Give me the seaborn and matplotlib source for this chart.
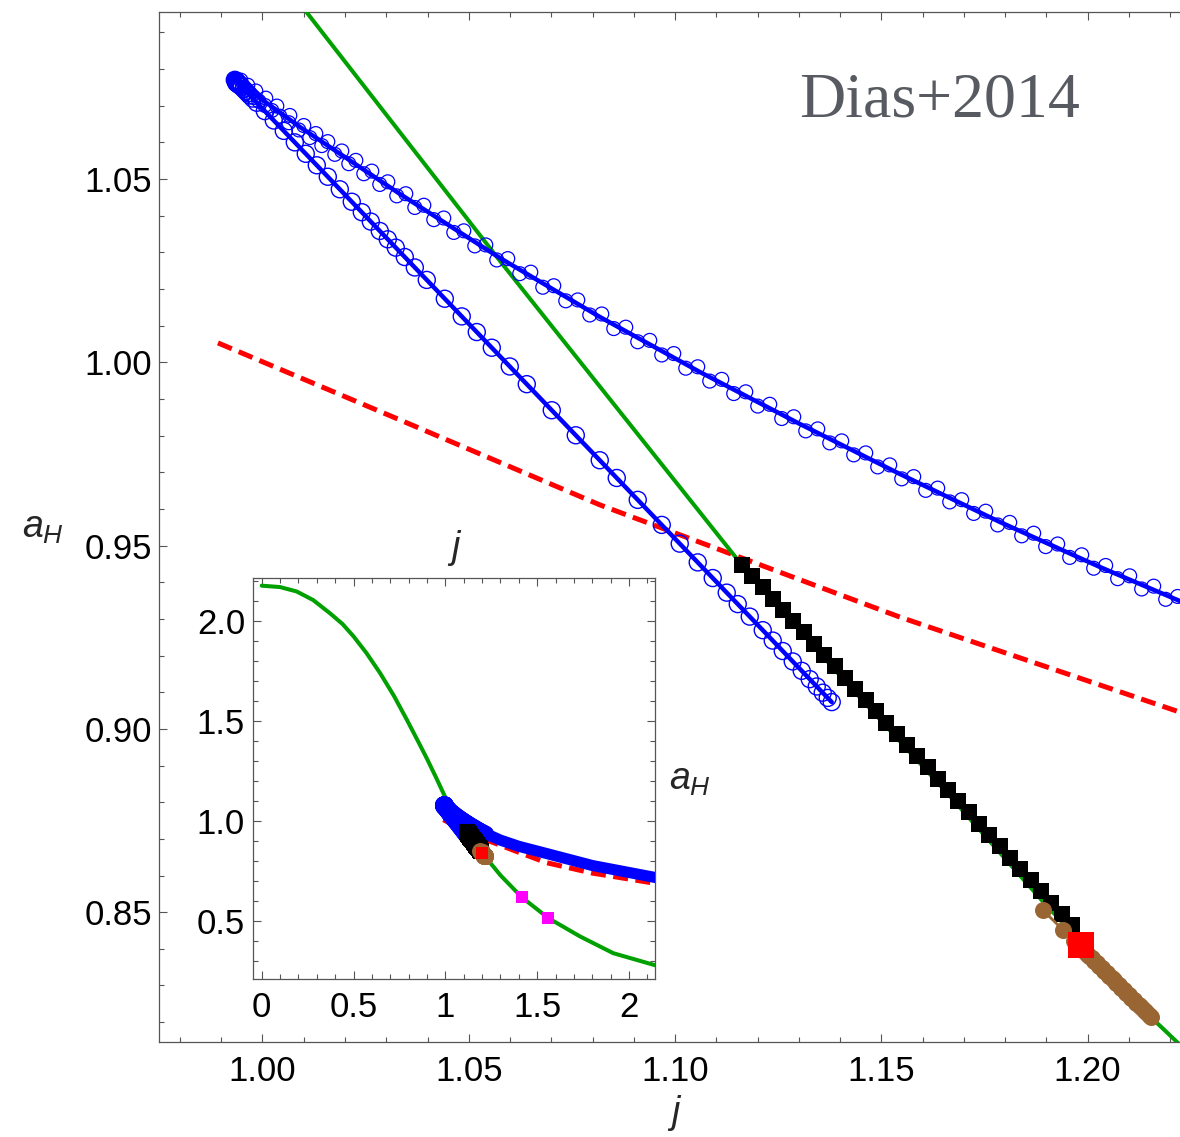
import matplotlib
matplotlib.use("Agg")
import matplotlib.pyplot as plt
from matplotlib.ticker import MultipleLocator, FormatStrFormatter
import seaborn as sns

# ---- values ----
green_j = [0.0, 0.10, 0.19, 0.28, 0.37, 0.44, 0.50, 0.57, 0.644, 0.72, 0.79, 0.85, 0.90, 0.95,
           1.0107, 1.0583, 1.1162, 1.1412, 1.1662, 1.1891, 1.2155, 1.225, 1.30, 1.415, 1.56,
           1.733, 1.914, 2.16]
green_a = [2.177, 2.170, 2.148, 2.105, 2.04, 1.985, 1.923, 1.84, 1.74, 1.625, 1.506, 1.40, 1.31,
           1.215, 1.0955, 1.0266, 0.9447, 0.9130, 0.8822, 0.8530, 0.8212, 0.811, 0.727, 0.618,
           0.513, 0.421, 0.337, 0.272]

red_j = [0.9892, 1.0333, 1.0818, 1.1545, 1.2223, 1.40, 1.551, 1.80, 2.16]
red_a = [1.0053, 0.9843, 0.9611, 0.9305, 0.9046, 0.842, 0.790, 0.738, 0.684]

# upper branch: interpolating line and the two rows of circles along it
up_line_j = [0.99329, 1.00904, 1.03328, 1.05751, 1.08175, 1.10598, 1.13022, 1.15446, 1.17869,
             1.20293, 1.22232, 1.30, 1.40, 1.551, 1.80, 2.16]
up_line_a = [1.07707, 1.06424, 1.04596, 1.02850, 1.01240, 0.99739, 0.98321, 0.96956, 0.95647,
             0.94419, 0.93491, 0.903, 0.872, 0.836, 0.776, 0.713]

upA_j = [0.99329, 0.99353, 0.99377, 0.99401, 0.99426, 0.99450, 0.99498, 0.99547, 0.99620, 0.99692,
         0.99789, 0.99911, 1.00056, 1.00226, 1.00420, 1.00638, 1.00880, 1.01147, 1.01438, 1.01753,
         1.02092, 1.02456, 1.02843, 1.03255, 1.03692, 1.04152, 1.04637, 1.05146, 1.05679, 1.06236,
         1.06794, 1.07351, 1.07933, 1.08515, 1.09096, 1.09678, 1.10260, 1.10841, 1.11423, 1.12005,
         1.12586, 1.13168, 1.13750, 1.14331, 1.14913, 1.15495, 1.16076, 1.16658, 1.17239, 1.17821,
         1.18403, 1.18984, 1.19566, 1.20148, 1.20729, 1.21311, 1.21893, 1.22474]
upA_a = [1.07598, 1.07578, 1.07558, 1.07539, 1.07519, 1.07499, 1.07460, 1.07421, 1.07362, 1.07303,
         1.07224, 1.07126, 1.07008, 1.06871, 1.06714, 1.06537, 1.06340, 1.06132, 1.05913, 1.05675,
         1.05419, 1.05145, 1.04853, 1.04542, 1.04225, 1.03893, 1.03544, 1.03177, 1.02793, 1.02419,
         1.02049, 1.01678, 1.01292, 1.00921, 1.00561, 1.00201, 0.99840, 0.99488, 0.99148, 0.98807,
         0.98467, 0.98130, 0.97802, 0.97475, 0.97147, 0.96821, 0.96507, 0.96192, 0.95878, 0.95564,
         0.95267, 0.94973, 0.94678, 0.94383, 0.94098, 0.93817, 0.93535, 0.93254]

upB_j = [0.99474, 0.99644, 0.99838, 1.00080, 1.00347, 1.00662, 1.01001, 1.01292, 1.01583, 1.01922,
         1.02262, 1.02649, 1.03037, 1.03473, 1.03910, 1.04394, 1.04879, 1.05412, 1.05945, 1.06503,
         1.07060, 1.07642, 1.08224, 1.08805, 1.09387, 1.09969, 1.10550, 1.11132, 1.11714, 1.12295,
         1.12877, 1.13459, 1.14040, 1.14622, 1.15204, 1.15785, 1.16367, 1.16948, 1.17530, 1.18112,
         1.18693, 1.19275, 1.19857, 1.20438, 1.21020, 1.21602, 1.22183]
upB_a = [1.07698, 1.07560, 1.07403, 1.07207, 1.06991, 1.06735, 1.06460, 1.06241, 1.06021, 1.05766,
         1.05510, 1.05217, 1.04925, 1.04600, 1.04286, 1.03937, 1.03588, 1.03203, 1.02830, 1.02460,
         1.02090, 1.01703, 1.01319, 1.00959, 1.00599, 1.00239, 0.99879, 0.99536, 0.99196, 0.98855,
         0.98515, 0.98184, 0.97857, 0.97529, 0.97202, 0.96882, 0.96568, 0.96253, 0.95939, 0.95633,
         0.95338, 0.95044, 0.94749, 0.94458, 0.94176, 0.93894, 0.93613]

# lower branch
low_j = [0.99329, 0.99341, 0.99353, 0.99365, 0.99377, 0.99389, 0.99401, 0.99413, 0.99426, 0.99438,
         0.99450, 0.99474, 0.99498, 0.99547, 0.99595, 0.99644, 0.99692, 0.99765, 0.99862, 1.00056,
         1.00274, 1.00516, 1.00783, 1.01049, 1.01316, 1.01583, 1.01874, 1.02164, 1.02407, 1.02625,
         1.02843, 1.03037, 1.03231, 1.03449, 1.03692, 1.03982, 1.04419, 1.04830, 1.05194, 1.05558,
         1.05994, 1.06406, 1.07012, 1.07594, 1.08175, 1.08587, 1.09096, 1.09678, 1.10114, 1.10550,
         1.10914, 1.11253, 1.11520, 1.11811, 1.12126, 1.12368, 1.12611, 1.12853, 1.13071, 1.13265,
         1.13435, 1.13580, 1.13701, 1.13798]
low_a = [1.07707, 1.07693, 1.07679, 1.07665, 1.07651, 1.07637, 1.07623, 1.07608, 1.07593, 1.07579,
         1.07565, 1.07537, 1.07509, 1.07451, 1.07395, 1.07338, 1.07281, 1.07196, 1.07082, 1.06854,
         1.06598, 1.06314, 1.06001, 1.05689, 1.05376, 1.05063, 1.04721, 1.04381, 1.04096, 1.03840,
         1.03584, 1.03357, 1.03129, 1.02873, 1.02588, 1.02248, 1.01735, 1.01253, 1.00826, 1.00399,
         0.99887, 0.99404, 0.98693, 0.98010, 0.97329, 0.96845, 0.96248, 0.95565, 0.95054, 0.94542,
         0.94115, 0.93717, 0.93404, 0.93063, 0.92693, 0.92409, 0.92124, 0.91840, 0.91584, 0.91357,
         0.91157, 0.90987, 0.90845, 0.90731]

black_j = [1.1162, 1.1187, 1.1212, 1.1237, 1.1262, 1.1287, 1.1312, 1.1337, 1.1362, 1.1387, 1.1412,
           1.1437, 1.1462, 1.1487, 1.1512, 1.1537, 1.1562, 1.1587, 1.1612, 1.1637, 1.1662, 1.1687,
           1.1712, 1.1737, 1.1762, 1.1787, 1.1812, 1.1837, 1.1862, 1.1887, 1.1912, 1.1937, 1.1962]
black_a = [0.9447, 0.9416, 0.9386, 0.9355, 0.9324, 0.9294, 0.9263, 0.9232, 0.9202, 0.9171, 0.9140,
           0.9109, 0.9079, 0.9048, 0.9017, 0.8987, 0.8956, 0.8925, 0.8895, 0.8864, 0.8833, 0.8803,
           0.8772, 0.8741, 0.8711, 0.8680, 0.8649, 0.8619, 0.8588, 0.8557, 0.8526, 0.8496, 0.8465]

brown_j = [1.1891, 1.1940, 1.1968, 1.1974, 1.1980, 1.1986, 1.1992, 1.1998, 1.2004, 1.2010, 1.2016,
           1.2022, 1.2028, 1.2034, 1.2040, 1.2046, 1.2052, 1.2058, 1.2064, 1.2070, 1.2076, 1.2082,
           1.2088, 1.2094, 1.2100, 1.2106, 1.2112, 1.2118, 1.2124, 1.2130, 1.2136, 1.2142, 1.2148,
           1.2154]
brown_a = [0.8506, 0.8452, 0.8421, 0.8414, 0.8407, 0.8401, 0.8394, 0.8387, 0.8381, 0.8374, 0.8367,
           0.8360, 0.8354, 0.8347, 0.8340, 0.8334, 0.8327, 0.8320, 0.8314, 0.8307, 0.8300, 0.8293,
           0.8287, 0.8280, 0.8273, 0.8267, 0.8260, 0.8253, 0.8247, 0.8240, 0.8233, 0.8227, 0.8220,
           0.8213]

redsq_j, redsq_a = [1.1983], [0.8410]
mag_j, mag_a = [1.415, 1.560], [0.618, 0.513]

sns.set_theme(style="ticks")
plt.rcParams['font.family'] = ['Liberation Sans', 'DejaVu Sans']
plt.rcParams['mathtext.fontset'] = 'custom'
plt.rcParams['mathtext.rm'] = 'Liberation Sans'
plt.rcParams['mathtext.it'] = 'Liberation Sans:italic'

GREEN = '#00a000'
BROWN = '#996633'
EDGE = '#555555'

fig = plt.figure(figsize=(11.8, 11.37), dpi=100)
ax = fig.add_axes([0.1347, 0.0833, 0.8653, 0.9059])
ins = fig.add_axes([0.2147, 0.1390, 0.3404, 0.3524])


def line(a, x, y, **kw):
    sns.lineplot(x=x, y=y, ax=a, sort=False, estimator=None, **kw)


def draw(a, inset=False):
    line(a, red_j, red_a, color='red', lw=3.6, linestyle=(0, (3, 1.5)), zorder=2)
    line(a, green_j, green_a, color=GREEN, lw=2.9, zorder=3)
    if inset:
        line(a, up_line_j, up_line_a, color='blue', lw=8, zorder=3)
    line(a, up_line_j, up_line_a, color='blue', lw=3.2, zorder=4)
    line(a, low_j, low_a, color='blue', lw=3.2, zorder=4)
    for xs, ys in [(upA_j, upA_a), (upB_j, upB_a)]:
        a.scatter(xs, ys, s=100, facecolors='none', edgecolors='blue', linewidths=0.9, zorder=4)
    a.scatter(low_j, low_a, s=150, facecolors='none', edgecolors='blue', linewidths=1.0, zorder=4)
    sns.scatterplot(x=black_j, y=black_a, ax=a, marker='s', s=130, color='black', linewidth=0, zorder=5)
    line(a, brown_j, brown_a, color=BROWN, lw=2, zorder=6)
    sns.scatterplot(x=brown_j, y=brown_a, ax=a, marker='o', s=150, color=BROWN, linewidth=0, zorder=6)
    sns.scatterplot(x=redsq_j, y=redsq_a, ax=a, marker='s', s=70 if inset else 330,
                    color='red', linewidth=0, zorder=7)
    if inset:
        sns.scatterplot(x=mag_j, y=mag_a, ax=a, marker='s', s=64, color='magenta', linewidth=0, zorder=7)


def style(a, labelfmt_x, labelfmt_y, right):
    a.tick_params(which='both', direction='in', top=True, right=right, color=EDGE,
                  labelsize=25, labelcolor='black', width=0.8)
    a.tick_params(which='major', length=6)
    a.tick_params(which='minor', length=3.6)
    a.xaxis.set_major_formatter(FormatStrFormatter(labelfmt_x))
    a.yaxis.set_major_formatter(FormatStrFormatter(labelfmt_y))
    for s in a.spines.values():
        s.set_color(EDGE)
        s.set_linewidth(0.9)
    a.set_xlabel('')
    a.set_ylabel('')


draw(ax)
ax.set_xlim(0.9749, 1.2224)
ax.set_ylim(0.8145, 1.0955)
ax.xaxis.set_major_locator(MultipleLocator(0.05))
ax.xaxis.set_minor_locator(MultipleLocator(0.01))
ax.yaxis.set_major_locator(MultipleLocator(0.05))
ax.yaxis.set_minor_locator(MultipleLocator(0.01))
style(ax, '%.2f', '%.2f', right=False)
ax.tick_params(axis='x', pad=9)
ax.tick_params(axis='y', pad=5)
ax.spines['right'].set_visible(False)

draw(ins, inset=True)
ins.set_facecolor('white')
ins.set_xlim(-0.0457, 2.1415)
ins.set_ylim(0.208, 2.214)
ins.xaxis.set_major_locator(MultipleLocator(0.5))
ins.xaxis.set_minor_locator(MultipleLocator(0.1))
ins.yaxis.set_major_locator(MultipleLocator(0.5))
ins.yaxis.set_minor_locator(MultipleLocator(0.1))
style(ins, '%g', '%.1f', right=True)
ins.tick_params(axis='x', pad=9)
ins.tick_params(axis='y', pad=6)

fig.text(0.0364, 0.5356, r'$a_H$', fontsize=27, ha='center', va='center')
fig.text(0.572, 0.021, r'$j$', fontsize=27, ha='center', va='center')
fig.text(0.3856, 0.518, r'$j$', fontsize=27, ha='center', va='center')
fig.text(0.5847, 0.314, r'$a_H$', fontsize=27, ha='center', va='center')
fig.text(0.7966, 0.9103, 'Dias+2014', fontsize=46, family='Liberation Serif',
         color='#575b61', ha='center', va='center')

fig.savefig('out.png', dpi=100)
